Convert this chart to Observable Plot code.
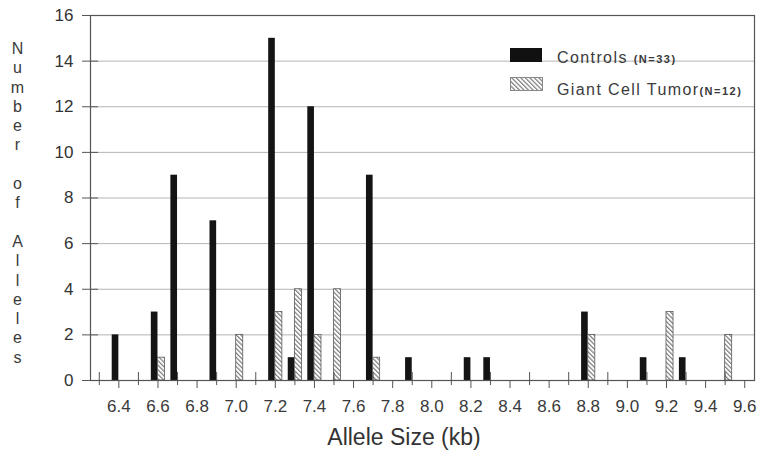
<!DOCTYPE html>
<html><head><meta charset="utf-8">
<script src="https://cdn.jsdelivr.net/npm/d3@7"></script>
<script src="https://cdn.jsdelivr.net/npm/@observablehq/plot@0.6"></script>
<style>
body{margin:0;background:#fff;}
#wrap{position:relative;width:762px;height:460px;font-family:"Liberation Sans",Arial,Helvetica,sans-serif;color:#3a3a3a;}
#wrap svg.plot{position:absolute;left:0;top:0;}
.abs{position:absolute;white-space:nowrap;line-height:1;}
.legtxt{font-size:16px;letter-spacing:1.4px;}
.legn{font-size:11px;font-weight:bold;letter-spacing:1.5px;}
#ytitle{position:absolute;left:9px;top:40px;font-size:16px;writing-mode:vertical-lr;text-orientation:upright;line-height:1;letter-spacing:2.3px;word-spacing:0px;color:#3a3a3a;}
#xtitle{position:absolute;left:0;width:808px;text-align:center;top:426px;font-size:23px;line-height:1;color:#333;}
</style></head><body>
<svg width="0" height="0" style="position:absolute">
 <defs>
  <pattern id="hatch" patternUnits="userSpaceOnUse" width="3.2" height="3.2" patternTransform="rotate(-45)">
   <rect width="3.2" height="3.2" fill="#fff"></rect>
   <line x1="0.6" y1="0" x2="0.6" y2="3.2" stroke="#707070" stroke-width="1.1"></line>
  </pattern>
 </defs>
</svg>
<div id="wrap"></div>
<script>
// ---- data ----
const controlSizes  = [6.4, 6.6, 6.7, 6.9, 7.2, 7.3, 7.4, 7.7, 7.9, 8.2, 8.3, 8.8, 9.1, 9.3];
const controlCounts = [2,   3,   9,   7,   15,  1,   12,  9,   1,   1,   1,   3,   1,   1];
const gctSizes      = [6.6, 7.0, 7.2, 7.3, 7.4, 7.5, 7.7, 8.8, 9.2, 9.5];
const gctCounts     = [1,   2,   3,   4,   2,   4,   1,   2,   3,   2];
const xLabelTicks = [6.4, 6.6, 6.8, 7.0, 7.2, 7.4, 7.6, 7.8, 8.0, 8.2, 8.4, 8.6, 8.8, 9.0, 9.2, 9.4, 9.6];
const xMinorTicks = [6.3, 6.5, 6.7, 6.9, 7.1, 7.3, 7.5, 7.7, 7.9, 8.1, 8.3, 8.5, 8.7, 8.9, 9.1, 9.3, 9.5];
const yTicks = [0, 2, 4, 6, 8, 10, 12, 14, 16];
const gridLines = [2, 4, 6, 8, 10, 12, 14];
const seriesNames = ["Controls", "Giant Cell Tumor"];
const seriesN = ["(N=33)", "(N=12)"];
const xTitle = "Allele Size (kb)";
const yTitle = "Number of Alleles";

// ---- build ----
const controls = controlSizes.map((s, i) => ({size: s, count: controlCounts[i]}));
const gct = gctSizes.map((s, i) => ({size: s, count: gctCounts[i]}));
const barW = 0.034;

const chart = Plot.plot({
  width: 762, height: 460,
  marginLeft: 90, marginRight: 8, marginTop: 15, marginBottom: 80,
  x: {domain: [6.255, 9.65]},
  y: {domain: [0, 16]},
  style: {fontFamily: "'Liberation Sans', Arial, Helvetica, sans-serif", background: "transparent"},
  marks: [
    Plot.ruleY(gridLines, {stroke: "#b4b4b4", strokeWidth: 1}),
    Plot.rect(controls, {x1: d => d.size - barW, x2: d => d.size, y1: 0, y2: "count", fill: "#141414"}),
    Plot.rect(gct, {x1: d => d.size, x2: d => d.size + barW + 0.002, y1: 0, y2: "count", fill: "url(#hatch)", stroke: "#5a5a5a", strokeWidth: 0.8}),
    Plot.frame({stroke: "#555", strokeWidth: 1.2}),
    Plot.axisY({ticks: yTicks, tickSize: 16, dx: 8, tickPadding: 9, fontSize: 17, stroke: "#555", fill: "#333", label: null, tickFormat: d => String(d)}),
    Plot.axisX({ticks: xLabelTicks, tickSize: 8, tickPadding: 11, fontSize: 17, stroke: "#555", fill: "#3a3a3a", label: null, tickFormat: d => d.toFixed(1)}),
    Plot.axisX({ticks: xMinorTicks, tickSize: 13, dy: -8, stroke: "#555", fill: "none", label: null})
  ]
});
chart.classList.add("plot");
const wrap = document.getElementById("wrap");
wrap.appendChild(chart);

// legend (inside plot area)
function addEl(html, style, cls) {
  const d = document.createElement("div");
  d.className = "abs " + (cls || "");
  d.style.cssText = style;
  d.innerHTML = html;
  wrap.appendChild(d);
  return d;
}
addEl('<div style="width:32px;height:14px;background:#111"></div>', "left:510px;top:48px;");
addEl('<svg width="33" height="14"><rect x="0.5" y="0.5" width="32" height="13" fill="url(#hatch)" stroke="#888" stroke-width="1"></rect></svg>', "left:510px;top:77px;");
addEl(seriesNames[0] + ' <span class="legn">' + seriesN[0] + '</span>', "left:557px;top:50px;", "legtxt");
addEl(seriesNames[1] + '<span class="legn">' + seriesN[1] + '</span>', "left:557px;top:81.5px;", "legtxt");

const xt = document.createElement("div"); xt.id = "xtitle"; xt.textContent = xTitle; wrap.appendChild(xt);
const yt = document.createElement("div"); yt.id = "ytitle"; yt.textContent = yTitle; wrap.appendChild(yt);
</script>
</body></html>
